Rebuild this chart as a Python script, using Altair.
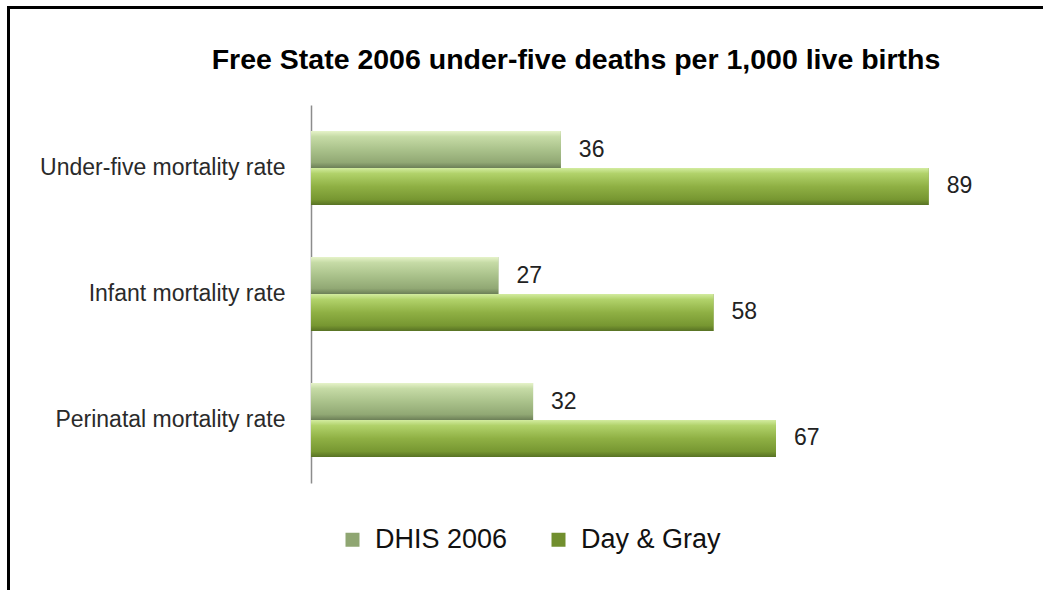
import altair as alt
import pandas as pd

categories = ["Under-five mortality rate", "Infant mortality rate", "Perinatal mortality rate"]
series_names = ["DHIS 2006", "Day & Gray"]
dhis_values = [36, 27, 32]
daygray_values = [89, 58, 67]

rows = []
for c, v in zip(categories, dhis_values):
    rows.append({"category": c, "series": series_names[0], "value": v})
for c, v in zip(categories, daygray_values):
    rows.append({"category": c, "series": series_names[1], "value": v})
df = pd.DataFrame(rows)

FONT = "Liberation Sans"
W, H = 694, 378

grad_dhis = alt.LinearGradient(
    gradient="linear", x1=0, y1=0, x2=0, y2=1,
    stops=[
        alt.GradientStop(offset=0, color="#e6f3c9"),
        alt.GradientStop(offset=0.15, color="#c6dba6"),
        alt.GradientStop(offset=0.5, color="#aac28b"),
        alt.GradientStop(offset=0.85, color="#91a874"),
        alt.GradientStop(offset=1, color="#6c7f57"),
    ],
)
grad_day = alt.LinearGradient(
    gradient="linear", x1=0, y1=0, x2=0, y2=1,
    stops=[
        alt.GradientStop(offset=0, color="#d3eca0"),
        alt.GradientStop(offset=0.15, color="#b1d26a"),
        alt.GradientStop(offset=0.5, color="#8fb044"),
        alt.GradientStop(offset=0.85, color="#779731"),
        alt.GradientStop(offset=1, color="#587224"),
    ],
)

y_enc = alt.Y("category:N", sort=categories,
              scale=alt.Scale(paddingInner=0.413, paddingOuter=0.2065),
              axis=alt.Axis(title=None, ticks=False, labelFont=FONT, labelFontSize=23,
                            labelColor="#2a2a2a", labelPadding=26, domainColor="#8c8c8c",
                            domainWidth=1.5, grid=False, labelLimit=400))
yoff = alt.YOffset("series:N", sort=series_names)
x_enc = alt.X("value:Q", scale=alt.Scale(domain=[0, 100], nice=False), axis=None)

base = alt.Chart(df)

bars = base.mark_bar().encode(
    y=y_enc, yOffset=yoff, x=x_enc,
    color=alt.Color("series:N", sort=series_names,
                    scale=alt.Scale(domain=series_names, range=["#8fa672", "#718f2e"]),
                    legend=alt.Legend(title=None, orient="none", direction="horizontal",
                                      legendX=28, legendY=421, symbolType="square",
                                      symbolSize=196, symbolStrokeWidth=0,
                                      labelFont=FONT, labelFontSize=27, labelColor="#111",
                                      labelOffset=9, columnPadding=37, padding=0)),
)

over_dhis = base.transform_filter(alt.datum.series == series_names[0]).mark_bar(fill=grad_dhis).encode(
    y=y_enc, yOffset=yoff, x=x_enc)
over_day = base.transform_filter(alt.datum.series == series_names[1]).mark_bar(fill=grad_day).encode(
    y=y_enc, yOffset=yoff, x=x_enc)

labels = base.mark_text(align="left", baseline="middle", dx=18, font=FONT, fontSize=23,
                        color="#222").encode(
    y=y_enc, yOffset=yoff, x=x_enc, text=alt.Text("value:Q"))

frame_left = alt.Chart(df).mark_rule(color="black", strokeWidth=3).encode(
    x=alt.value(-302.5), y=alt.value(-99), y2=alt.value(500))
frame_top = alt.Chart(df).mark_rule(color="black", strokeWidth=3).encode(
    x=alt.value(-304), x2=alt.value(740), y=alt.value(-97.5))

chart = alt.layer(bars, over_dhis, over_day, labels, frame_left, frame_top).properties(
    width=W, height=H,
    title=alt.TitleParams("Free State 2006 under-five deaths per 1,000 live births",
                          font=FONT, fontSize=28.5, fontWeight="bold", color="#000",
                          anchor="middle", frame="group", dx=-82, dy=104, offset=34),
    autosize=alt.AutoSizeParams(type="none"),
    padding={"left": 311, "top": 105, "right": 38, "bottom": 107},
    background="white",
).configure_view(strokeWidth=0, stroke="transparent")

chart.save("out.html", embed_options={"renderer": "svg", "actions": False})
